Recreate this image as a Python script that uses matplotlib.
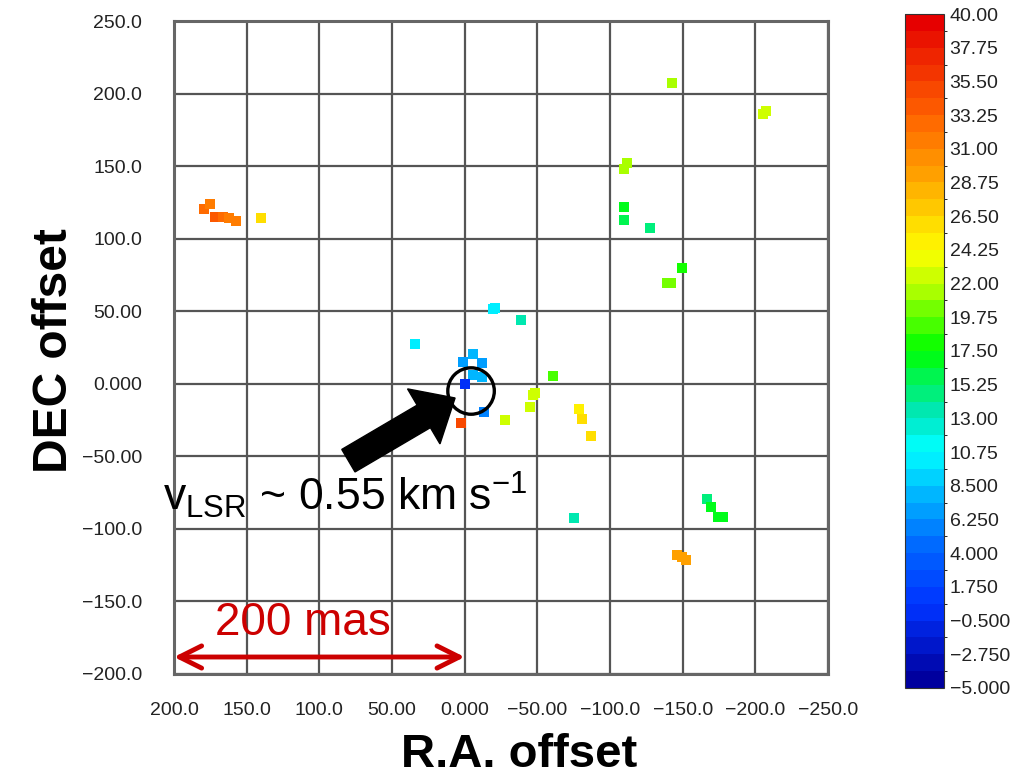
import matplotlib
matplotlib.use("Agg")
import matplotlib.pyplot as plt
import numpy as np
from matplotlib.colors import LinearSegmentedColormap, BoundaryNorm
from matplotlib import patches

plt.rcParams['font.family'] = ['Liberation Sans', 'DejaVu Sans']

# ---------------- data ----------------
ra_offset = [179.4, 175.2, 171.8, 166.3, 162.1, 157.3, 140.1,
             -142.7, -205.4, -207.5, -111.8, -109.7, -109.7, -109.7, -127.6,
             -149.6, -139.3, -142.0, -20.9, -19.5, -38.8, 34.1,
             -5.8, 1.1, -12.0, -5.8, -12.0, 0.0, -13.3, 2.5,
             -60.8, -48.5, -47.0, -45.0, -27.8, -78.7, -80.8, -87.0, -75.3,
             -166.8, -169.6, -174.5, -177.5, -146.2, -149.6, -152.4]
dec_offset = [120.4, 123.9, 114.9, 114.9, 114.2, 112.2, 114.2,
              207.3, 185.9, 188.0, 152.1, 148.0, 121.8, 112.9, 107.3,
              79.8, 69.4, 69.4, 52.2, 51.5, 43.9, 27.4,
              20.5, 15.0, 14.3, 6.0, 4.7, 0.0, -19.5, -27.0,
              5.3, -6.4, -7.8, -16.0, -25.0, -17.4, -24.3, -36.0, -92.5,
              -79.4, -85.0, -91.8, -91.8, -118.0, -119.4, -121.5]
vlsr = [33.0, 31.0, 33.5, 33.0, 32.0, 31.0, 26.0,
        21.0, 22.5, 22.5, 21.5, 21.5, 17.0, 15.5, 15.0,
        18.5, 20.5, 20.5, 10.0, 10.0, 13.0, 10.5,
        7.5, 6.5, 6.5, 7.5, 7.5, 0.55, 6.0, 35.0,
        19.5, 22.0, 22.0, 22.0, 22.0, 24.5, 25.5, 26.0, 13.0,
        14.5, 16.5, 17.0, 17.0, 29.5, 29.5, 29.5]

x_ticks = [200, 150, 100, 50, 0, -50, -100, -150, -200, -250]
x_labels = ['200.0', '150.0', '100.0', '50.00', '0.000', '\u221250.00',
            '\u2212100.0', '\u2212150.0', '\u2212200.0', '\u2212250.0']
y_ticks = [250, 200, 150, 100, 50, 0, -50, -100, -150, -200]
y_labels = ['250.0', '200.0', '150.0', '100.0', '50.00', '0.000', '\u221250.00',
            '\u2212100.0', '\u2212150.0', '\u2212200.0']
cb_ticks = [40.0, 37.75, 35.5, 33.25, 31.0, 28.75, 26.5, 24.25, 22.0, 19.75, 17.5,
            15.25, 13.0, 10.75, 8.5, 6.25, 4.0, 1.75, -0.5, -2.75, -5.0]
cb_labels = ['40.00', '37.75', '35.50', '33.25', '31.00', '28.75', '26.50', '24.25',
             '22.00', '19.75', '17.50', '15.25', '13.00', '10.75', '8.500', '6.250',
             '4.000', '1.750', '\u22120.500', '\u22122.750', '\u22125.000']

# ---------------- colormap ----------------
vmin, vmax = -5.0, 40.0
stops = [(-5.0, (0.0, 0.0, 0.62)), (0.0, (0.0, 0.2, 1.0)), (4.0, (0.0, 0.4, 1.0)),
         (10.75, (0.0, 1.0, 1.0)), (13.0, (0.0, 0.9, 0.75)), (17.5, (0.0, 1.0, 0.0)),
         (22.0, (0.75, 1.0, 0.0)), (24.25, (1.0, 1.0, 0.0)), (28.75, (1.0, 0.68, 0.0)),
         (33.25, (1.0, 0.4, 0.0)), (40.0, (0.9, 0.0, 0.0))]
cmap = LinearSegmentedColormap.from_list(
    'vlsr', [((v - vmin) / (vmax - vmin), c) for v, c in stops], N=256)
levels = np.linspace(vmin, vmax, 41)
norm = BoundaryNorm(levels, cmap.N)

# ---------------- figure ----------------
fig = plt.figure(figsize=(10.21, 7.78), dpi=100)
ax = fig.add_axes([0.1704, 0.1337, 0.6406, 0.8393])
grid_c = '#555555'

sc = ax.scatter(ra_offset, dec_offset, c=vlsr, cmap=cmap, norm=norm, marker='s',
                s=52, linewidths=0, zorder=3)

ax.set_xlim(200, -250)
ax.set_ylim(-200, 250)
ax.set_xticks(x_ticks)
ax.set_xticklabels(x_labels)
ax.set_yticks(y_ticks)
ax.set_yticklabels(y_labels)
ax.tick_params(axis='x', length=0, pad=20, labelsize=14, labelcolor='#222222')
ax.tick_params(axis='y', length=0, pad=23, labelsize=14, labelcolor='#222222')
ax.grid(True, color=grid_c, linewidth=1.6, zorder=1)
ax.set_axisbelow(True)
for sp in ax.spines.values():
    sp.set_color('#666666')
    sp.set_linewidth(2.2)

ax.set_xlabel('R.A. offset', fontsize=34, fontweight='bold', va='center')
ax.set_ylabel('DEC offset', fontsize=34.5, fontweight='bold', va='center')
ax.xaxis.set_label_coords(0.527, -0.124)
ax.yaxis.set_label_coords(-0.183, 0.496)

# circle around the central spot
ax.add_patch(patches.Circle((-4.4, -5.0), 16.0, fill=False, edgecolor='black',
                            linewidth=2.4, zorder=5))
# big black arrow
tail = (80.0, -53.0)
tip = (6.6, -9.8)
ax.add_patch(patches.FancyArrow(tail[0], tail[1], tip[0] - tail[0], tip[1] - tail[1],
                                width=18, head_width=44, head_length=25,
                                length_includes_head=True, color='black', zorder=6))
ax.text(207.6, -87, r'v$_{\mathregular{LSR}}$ ~ 0.55 km s$^{\mathregular{-1}}$',
        fontsize=32, color='black', ha='left', va='baseline', zorder=7)

# 200 mas scale bar
ax.annotate('', xy=(0, -188.3), xytext=(200, -188.3),
            arrowprops=dict(arrowstyle='<->,head_length=1.6,head_width=0.8',
                            color='#cc0000', lw=3.5, shrinkA=0, shrinkB=0), zorder=7)
ax.text(111, -173, '200 mas', fontsize=33, color='#cc0000', ha='center',
        va='baseline', zorder=7)

# colorbar
cax = fig.add_axes([0.8864, 0.1157, 0.0382, 0.8663])
cb = fig.colorbar(sc, cax=cax, boundaries=levels, ticks=cb_ticks)
cb.ax.set_yticklabels(cb_labels)
cb.ax.tick_params(length=0, pad=4, labelsize=14, labelcolor='#222222')
cb.outline.set_edgecolor('#333333')
cb.outline.set_linewidth(0.8)

fig.savefig('out.png', dpi=100)
